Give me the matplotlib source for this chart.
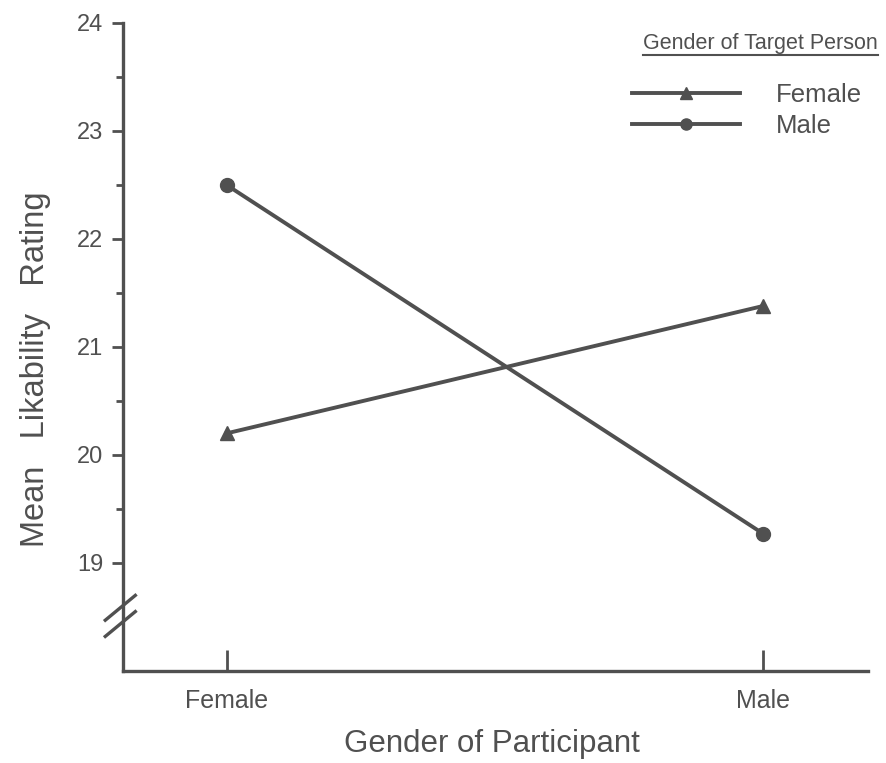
import numpy as np
import matplotlib.pyplot as plt
from matplotlib.ticker import MultipleLocator

# participant gender on x, one line per target gender
participants = ['Female', 'Male']
female_target = [20.2, 21.38]
male_target = [22.5, 19.27]
y_ticks = [19, 20, 21, 22, 23, 24]

ink = '#505050'
plt.rcParams['font.family'] = ['Liberation Sans', 'DejaVu Sans']

fig = plt.figure(figsize=(8.86, 7.63), dpi=100)
ax = fig.add_axes([0.1388, 0.1206, 0.8409, 0.8493])

x = np.arange(len(participants))
ax.plot(x, female_target, color=ink, lw=2.8, marker='^', ms=10, label='Female')
ax.plot(x, male_target, color=ink, lw=2.8, marker='o', ms=10, label='Male')

ax.set_xlim(-0.193, 1.195)
ax.set_ylim(18, 24)

for s in ['top', 'right']:
    ax.spines[s].set_visible(False)
for s in ['left', 'bottom']:
    ax.spines[s].set_color(ink)
    ax.spines[s].set_linewidth(2.4)

ax.set_yticks(y_ticks)
ax.yaxis.set_minor_locator(MultipleLocator(0.5))
ax.set_xticks(x)
ax.set_xticklabels(participants)
ax.tick_params(axis='y', which='major', direction='out', length=8, width=2,
               color=ink, labelcolor=ink, labelsize=17, pad=6)
ax.tick_params(axis='y', which='minor', direction='out', length=5, width=2, color=ink)
ax.tick_params(axis='x', direction='in', length=15, width=2, color=ink,
               labelcolor=ink, labelsize=18, pad=13)
# hide minor ticks below 19 (the broken part of the axis)
for t, v in zip(ax.yaxis.get_minor_ticks(), ax.yaxis.get_minorticklocs()):
    if v < 19:
        t.set_visible(False)

ax.set_ylabel('Mean   Likability   Rating', fontsize=23.5, color=ink)
ax.yaxis.set_label_coords(-0.097, 0.466)
ax.set_xlabel('Gender of Participant', fontsize=22.5, color=ink)
ax.xaxis.set_label_coords(0.495, -0.0895)

# axis break marks
for dy in (0.0, 0.15):
    ax.plot([-0.226, -0.17], [18.32 + dy, 18.55 + dy], color=ink, lw=2.4,
            clip_on=False, transform=ax.transData)

leg = ax.legend(loc='upper left', bbox_to_anchor=(0.683, 0.907), frameon=False,
                fontsize=18.5, handlelength=4.2, handletextpad=1.4,
                labelspacing=0.28, markerscale=0.8, borderpad=0, borderaxespad=0)
for t in leg.get_texts():
    t.set_color(ink)

ttl = ax.text(1.013, 0.968, 'Gender of Target Person', transform=ax.transAxes,
              ha='right', va='center', fontsize=15.5, color=ink)
fig.canvas.draw()
bb = ttl.get_window_extent().transformed(fig.transFigure.inverted())
fig.add_artist(plt.Line2D([bb.x0, bb.x1], [bb.y0 - 0.001, bb.y0 - 0.001],
                          color=ink, lw=1.5, transform=fig.transFigure))

fig.savefig('out.png', dpi=100)
